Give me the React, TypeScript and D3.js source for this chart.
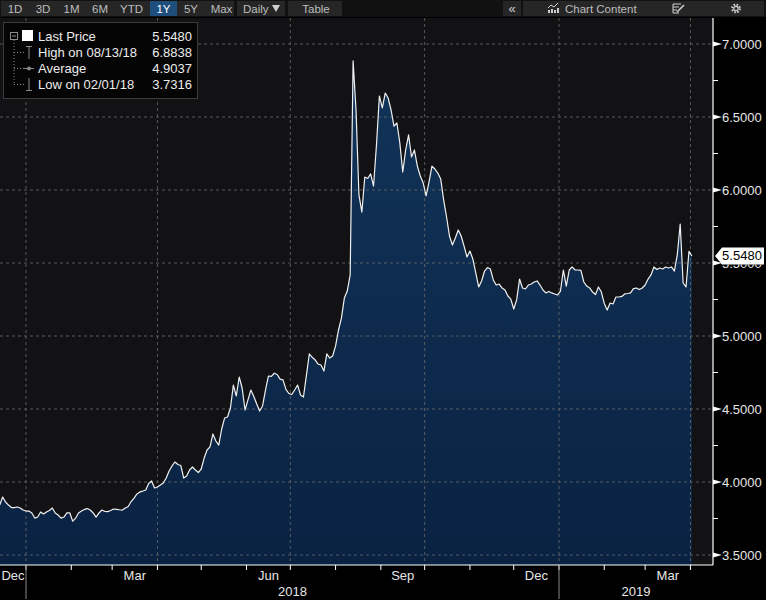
import React from 'react';
import * as d3 from 'd3';

// ---- data ----
const startDate = new Date(2017, 11, 14);
const stepDays = 2;
const prices: number[] = [
  3.842, 3.897, 3.863, 3.842, 3.825, 3.825, 3.829, 3.822, 3.808, 3.801,
  3.801, 3.788, 3.753, 3.760, 3.795, 3.781, 3.795, 3.805, 3.822, 3.788,
  3.774, 3.753, 3.760, 3.788, 3.788, 3.7316, 3.753, 3.788, 3.801, 3.812,
  3.818, 3.808, 3.788, 3.760, 3.788, 3.808, 3.798, 3.797, 3.805, 3.815,
  3.813, 3.810, 3.808, 3.822, 3.832, 3.866, 3.890, 3.918, 3.932, 3.938,
  3.945, 3.990, 4.007, 3.959, 3.966, 3.979, 3.993, 4.027, 4.075, 4.110,
  4.137, 4.120, 4.113, 4.027, 4.041, 4.082, 4.103, 4.082, 4.065, 4.089,
  4.164, 4.219, 4.240, 4.329, 4.281, 4.253, 4.363, 4.438, 4.445, 4.507,
  4.664, 4.589, 4.719, 4.644, 4.493, 4.562, 4.630, 4.586, 4.534, 4.486,
  4.521, 4.630, 4.726, 4.723, 4.745, 4.736, 4.705, 4.699, 4.634, 4.606,
  4.599, 4.630, 4.664, 4.596, 4.582, 4.729, 4.877, 4.854, 4.836, 4.808,
  4.801, 4.760, 4.877, 4.849, 4.863, 4.932, 5.041, 5.123, 5.260, 5.308,
  5.418, 6.8838, 6.548, 5.966, 5.849, 6.089, 6.079, 6.110, 6.027, 6.308,
  6.644, 6.562, 6.664, 6.630, 6.548, 6.438, 6.459, 6.322, 6.123, 6.274,
  6.377, 6.226, 6.274, 6.164, 6.096, 6.048, 5.959, 6.055, 6.164, 6.144,
  6.116, 6.075, 5.932, 5.815, 5.685, 5.623, 5.671, 5.726, 5.685, 5.616,
  5.541, 5.582, 5.527, 5.432, 5.336, 5.377, 5.445, 5.469, 5.459, 5.384,
  5.349, 5.356, 5.329, 5.315, 5.274, 5.253, 5.185, 5.247, 5.390, 5.329,
  5.322, 5.349, 5.356, 5.370, 5.377, 5.349, 5.315, 5.295, 5.305, 5.295,
  5.288, 5.281, 5.308, 5.452, 5.342, 5.452, 5.473, 5.452, 5.452, 5.449,
  5.370, 5.342, 5.329, 5.301, 5.284, 5.336, 5.301, 5.223, 5.178, 5.226,
  5.219, 5.267, 5.267, 5.271, 5.288, 5.291, 5.295, 5.325, 5.329, 5.318,
  5.329, 5.349, 5.390, 5.418, 5.473, 5.455, 5.466, 5.459, 5.473, 5.466,
  5.473, 5.445, 5.555, 5.767, 5.363, 5.336, 5.580, 5.548,
];
const yTicks = [3.5, 4.0, 4.5, 5.0, 5.5, 6.0, 6.5, 7.0];
const yMinorTicks = [3.75, 4.25, 4.75, 5.25, 5.75, 6.25, 6.75];
const lastPrice = 5.548;
const legendLabels = ['Last Price', 'High on 08/13/18', 'Average', 'Low on 02/01/18'];
const legendValues = ['5.5480', '6.8838', '4.9037', '3.7316'];
const periodButtons = ['1D', '3D', '1M', '6M', 'YTD', '1Y', '5Y', 'Max'];
const activePeriod = '1Y';
const quarterLabelMonths = [2, 5, 8, 11]; // Mar, Jun, Sep, Dec

const W = 766;
const H = 600;
const plotLeft = 0;
const plotRight = 713;
const plotTop = 18;
const plotBottom = 565;
const FONT = '"Liberation Sans", Arial, sans-serif';

export default function App() {
  const data = prices.map((v, i) => ({ date: d3.timeDay.offset(startDate, i * stepDays), value: v }));

  const x = d3.scaleTime().domain([new Date(2018, 0, 1), new Date(2019, 0, 1)]).range([26, 559]);
  const y = d3.scaleLinear().domain([3.5, 7]).range([555, 44]);

  const area = d3.area<{ date: Date; value: number }>()
    .x(d => x(d.date)).y0(plotBottom).y1(d => y(d.value));
  const line = d3.line<{ date: Date; value: number }>()
    .x(d => x(d.date)).y(d => y(d.value));

  const visStart = x.invert(plotLeft);
  const visEnd = x.invert(plotRight);
  const months = d3.timeMonth.range(d3.timeMonth.floor(visStart), d3.timeMonth.offset(visEnd, 1));
  const monthTicks = months.filter(m => x(m) >= plotLeft && x(m) <= plotRight);
  const quarterStarts = monthTicks.filter(m => m.getMonth() % 3 === 0);
  const yearStarts = monthTicks.filter(m => m.getMonth() === 0);
  const monthLabelItems = months
    .filter(m => quarterLabelMonths.includes(m.getMonth()))
    .map(m => {
      const a = Math.max(plotLeft, x(m));
      const b = Math.min(plotRight, x(d3.timeMonth.offset(m, 1)));
      return { label: d3.timeFormat('%b')(m), cx: (a + b) / 2, ok: b > a + 10 };
    })
    .filter(d => d.ok);
  const years = d3.timeYear.range(d3.timeYear.floor(visStart), d3.timeYear.offset(visEnd, 1));
  const yearLabelItems = years.map(yr => {
    const a = Math.max(plotLeft, x(yr));
    const b = Math.min(plotRight, x(d3.timeYear.offset(yr, 1)));
    return { label: d3.timeFormat('%Y')(yr), cx: (a + b) / 2, ok: b - a > 60 && x(yr) >= plotLeft };
  }).filter(d => d.ok);

  const yl = y(lastPrice);

  // toolbar layout
  const btnCenters = [15, 43, 71.5, 100, 131.5, 163.5, 191, 221.5];

  return (
    <svg width={W} height={H} style={{ position: 'absolute', left: 0, top: 0, background: '#000' }}
      fontFamily={FONT}>
      <defs>
        <linearGradient id="fillGrad" x1="0" y1="0" x2="0" y2="1">
          <stop offset="0%" stopColor="#113459" />
          <stop offset="100%" stopColor="#0a2242" />
        </linearGradient>
        <clipPath id="plotClip">
          <rect x={plotLeft} y={plotTop} width={plotRight - plotLeft} height={plotBottom - plotTop} />
        </clipPath>
        <clipPath id="belowBox">
          <rect x={716} y={yl + 8.5} width={50} height={20} />
        </clipPath>
      </defs>
      <rect x={0} y={0} width={W} height={H} fill="#000" />

      {/* toolbar */}
      <rect x={0} y={0} width={W} height={17} fill="#111" />
      <rect x={1} y={1} width={233} height={15} fill="#262626" />
      <rect x={150} y={1} width={27} height={15} fill="#1d4e7c" />
      <rect x={237} y={1} width={48} height={15} fill="#262626" />
      <rect x={288} y={1} width={54} height={15} fill="#262626" />
      {periodButtons.map((b, i) => (
        <text key={b} x={btnCenters[i]} y={13} textAnchor="middle" fontSize={11.5}
          fill={b === activePeriod ? '#ffffff' : '#bdbdbd'}>{b}</text>
      ))}
      <text x={243} y={13} fontSize={11.5} fill="#bdbdbd">Daily</text>
      <path d="M272,5 L280,5 L276,12 Z" fill="#d0d0d0" />
      <text x={316} y={13} textAnchor="middle" fontSize={11.5} fill="#bdbdbd">Table</text>
      <rect x={503} y={1} width={18} height={15} fill="#262626" />
      <text x={512} y={13} textAnchor="middle" fontSize={13} fill="#d0d0d0">«</text>
      <rect x={523} y={1} width={241} height={15} fill="#262626" />
      <g fill="#cfcfcf" stroke="none">
        <rect x={548} y={10} width={2} height={3} />
        <rect x={551} y={9} width={2} height={4} />
        <rect x={554} y={10} width={2} height={3} />
        <rect x={557} y={8} width={2} height={5} />
      </g>
      <path d="M548,8 L551,5 L554,7 L558,3" stroke="#cfcfcf" fill="none" strokeWidth={1} />
      <text x={565} y={13} fontSize={11.5} fill="#bdbdbd">Chart Content</text>
      <g stroke="#cfcfcf" strokeWidth={1} fill="none">
        <path d="M673,4 L681,4 M673,7 L679,7 M673,10 L677,10 M673,4 L673,13 L679,13" />
        <path d="M677,12 L684,5" strokeWidth={1.6} />
      </g>
      <circle cx={736} cy={8.5} r={3.8} fill="none" stroke="#cfcfcf" strokeWidth={2.2} strokeDasharray="1.6 1.4" />
      <circle cx={736} cy={8.5} r={2.2} fill="none" stroke="#cfcfcf" strokeWidth={1.2} />

      {/* plot background */}
      <rect x={plotLeft} y={plotTop} width={plotRight - plotLeft} height={plotBottom - plotTop} fill="#121214" />

      <g clipPath="url(#plotClip)">
        <path d={area(data) || ''} fill="url(#fillGrad)" />
        {/* gridlines */}
        {yTicks.map(t => (
          <line key={'gy' + t} x1={plotLeft} x2={plotRight} y1={y(t)} y2={y(t)}
            stroke="#6a6a6a" strokeWidth={1} strokeDasharray="3 3" opacity={0.8} />
        ))}
        {quarterStarts.map(m => (
          <line key={'gx' + m.getTime()} x1={x(m)} x2={x(m)} y1={plotTop} y2={plotBottom}
            stroke="#6a6a6a" strokeWidth={1} strokeDasharray="3 3" opacity={0.8} />
        ))}
        <path d={line(data) || ''} fill="none" stroke="#f0f0f0" strokeWidth={1.2} strokeLinejoin="round" />
      </g>

      {/* axes */}
      <line x1={plotRight} x2={plotRight} y1={plotTop} y2={plotBottom} stroke="#fff" strokeWidth={1.2} />
      <line x1={plotLeft} x2={plotRight} y1={plotBottom} y2={plotBottom} stroke="#fff" strokeWidth={1.2} />
      {yMinorTicks.map(t => (
        <line key={'ym' + t} x1={plotRight} x2={plotRight + 5} y1={y(t)} y2={y(t)} stroke="#fff" strokeWidth={1} />
      ))}
      {yTicks.map(t => {
        const hidden = Math.abs(y(t) - yl) < 12;
        return (
          <g key={'yt' + t}>
            <path d={`M${plotRight},${y(t) - 2.5} L${plotRight + 9},${y(t)} L${plotRight},${y(t) + 2.5} Z`} fill="#fff" />
            <text x={722} y={y(t) + 4.5} fontSize={13} fill="#e6e6e6"
              clipPath={hidden ? 'url(#belowBox)' : undefined}>{d3.format('.4f')(t)}</text>
          </g>
        );
      })}
      {monthTicks.map(m => (
        <line key={'mt' + m.getTime()} x1={x(m)} x2={x(m)} y1={plotBottom} y2={plotBottom + 5}
          stroke="#fff" strokeWidth={1} />
      ))}
      {yearStarts.map(m => (
        <line key={'ys' + m.getTime()} x1={x(m)} x2={x(m)} y1={plotBottom} y2={599}
          stroke="#8a8a8a" strokeWidth={1} />
      ))}
      {monthLabelItems.map((d, i) => (
        <text key={'ml' + i} x={d.cx} y={580} textAnchor="middle" fontSize={13} fill="#e6e6e6">{d.label}</text>
      ))}
      {yearLabelItems.map((d, i) => (
        <text key={'yl' + i} x={d.cx} y={596} textAnchor="middle" fontSize={13} fill="#e6e6e6">{d.label}</text>
      ))}

      {/* last price marker */}
      <path d={`M${plotRight + 2},${yl} L${plotRight + 9},${yl - 8.5} L764,${yl - 8.5} L764,${yl + 8.5} L${plotRight + 9},${yl + 8.5} Z`}
        fill="#ffffff" />
      <text x={742} y={yl + 4.5} textAnchor="middle" fontSize={13} fill="#000">{d3.format('.4f')(lastPrice)}</text>

      {/* legend */}
      <rect x={3.5} y={22.5} width={194} height={76} fill="#050505" stroke="#3c3c3c" strokeWidth={1} />
      <g stroke="#8a8a8a" strokeWidth={1} fill="none">
        <rect x={10.5} y={32.5} width={7} height={7} />
        <line x1={12} x2={16} y1={36} y2={36} />
        <line x1={14} x2={14} y1={40} y2={85} strokeDasharray="1 2" />
        <line x1={14} x2={24} y1={52.5} y2={52.5} strokeDasharray="1 2" />
        <line x1={14} x2={24} y1={68.5} y2={68.5} strokeDasharray="1 2" />
        <line x1={14} x2={24} y1={84.5} y2={84.5} strokeDasharray="1 2" />
        <line x1={29} x2={29} y1={46} y2={59} />
        <line x1={26} x2={32} y1={46.5} y2={46.5} />
        <line x1={24} x2={34} y1={68.5} y2={68.5} />
        <line x1={29} x2={29} y1={78} y2={90} />
        <line x1={26} x2={32} y1={90.5} y2={90.5} />
      </g>
      <circle cx={29} cy={68.5} r={2} fill="#8a8a8a" />
      <rect x={22} y={30} width={11} height={11} fill="#fff" />
      {legendLabels.map((l, i) => (
        <g key={l}>
          <text x={38} y={40.5 + i * 16.2} fontSize={13} fill="#ececec">{l}</text>
          <text x={192} y={40.5 + i * 16.2} textAnchor="end" fontSize={13} fill="#ececec">{legendValues[i]}</text>
        </g>
      ))}
    </svg>
  );
}
